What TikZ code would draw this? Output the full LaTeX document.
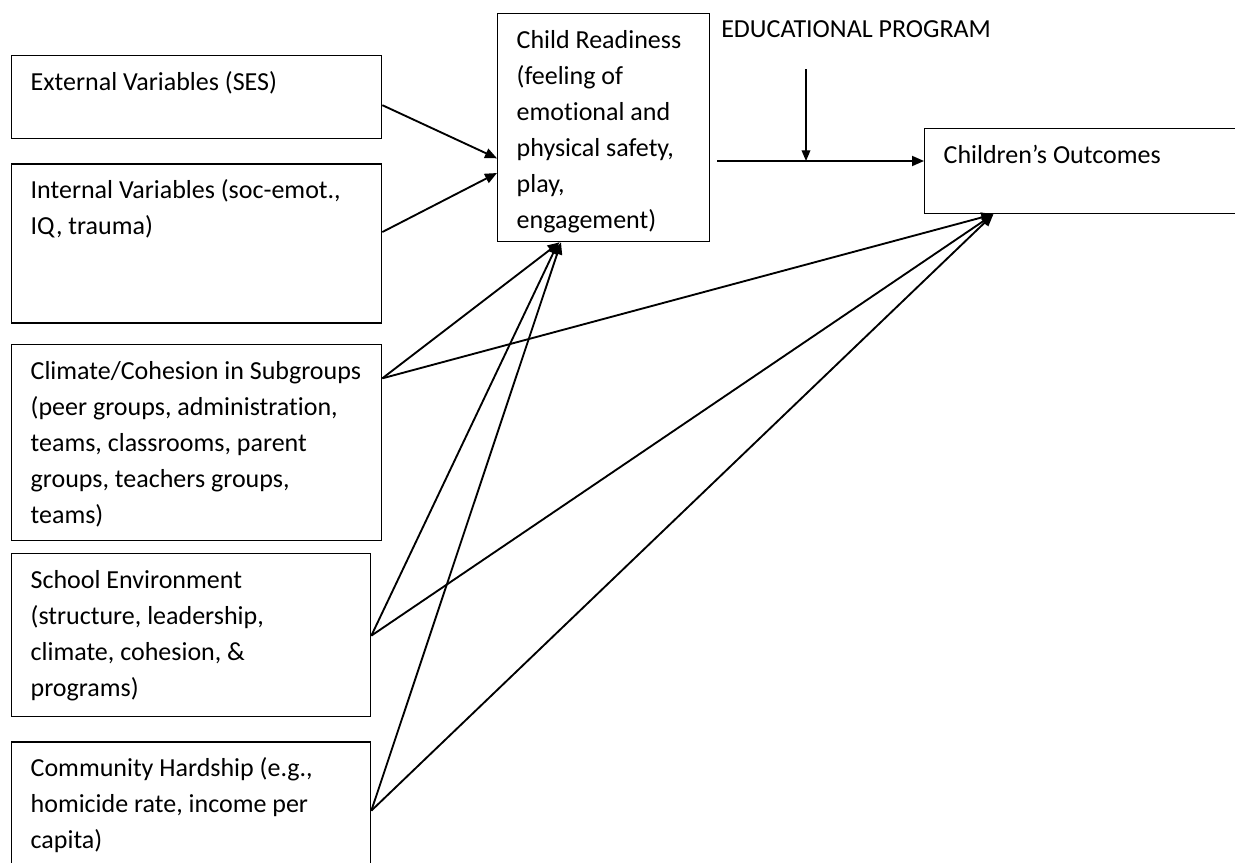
\documentclass[tikz,border=0pt]{standalone}
\usepackage{fontspec}
\setmainfont[Ligatures=NoCommon]{Carlito}
\usetikzlibrary{positioning,arrows.meta}
\newcommand{\boxtext}[3]{\parbox[t][#2][t]{#1}{\raggedright\leftskip=14.25pt\rule{0pt}{26pt}#3}}
\tikzset{
  varbox/.style={draw, line width=1pt, inner sep=0pt, anchor=north west},
  arrow/.style={-{Triangle[length=9pt, width=7.5pt]}, line width=1.4pt},
  thinarrow/.style={-{Triangle[length=8pt, width=6.5pt]}, line width=1pt},
}

\begin{document}
\begin{tikzpicture}[x=0.75pt, y=-0.75pt, font={\fontsize{19.5pt}{27pt}\selectfont}]
  \useasboundingbox (0,0) rectangle (1235,863);

  % predictors
  \node[varbox] (ext) at (11,55) {\boxtext{277.5pt}{62.25pt}{External Variables (SES)}};
  \node[varbox, below right=18pt and 0pt of ext.south west] (int)
       {\boxtext{277.5pt}{119.25pt}{Internal Variables (soc-emot.,\\IQ, trauma)}};
  \node[varbox, below right=15pt and 0pt of int.south west] (clim)
       {\boxtext{277.5pt}{147pt}{Climate/Cohesion in Subgroups\\(peer groups, administration,\\teams, classrooms, parent\\groups, teachers groups,\\teams)}};
  \node[varbox, below right=9pt and 0pt of clim.south west] (school)
       {\boxtext{269.25pt}{122.25pt}{School Environment\\(structure, leadership,\\climate, cohesion, \&\\programs)}};
  \node[varbox, below right=18pt and 0pt of school.south west] (comm)
       {\boxtext{269.25pt}{105pt}{Community Hardship (e.g.,\\homicide rate, income per\\capita)}};

  % mediator and outcome
  \node[varbox] (ready) at (497,13)
       {\boxtext{159pt}{171pt}{Child Readiness\\(feeling of\\emotional and\\physical safety,\\play,\\engagement)}};
  \node[varbox] (out) at (924,128) {\boxtext{247.5pt}{63.75pt}{Children’s Outcomes}};
  \node[anchor=north west, inner sep=0pt, below right=5.25pt and 8pt of ready.north east]
       (prog) {EDUCATIONAL PROGRAM};

  \coordinate[below=25pt of ready.east] (mid);
  \coordinate[below right=23.7pt and 63.75pt of prog.south west] (edtop);

  \draw[arrow] ([yshift=-6pt]ext.east) -- ([yshift=-23pt]ready.west);
  \draw[arrow] ([yshift=8.6pt]int.east) -- ([yshift=-34pt]ready.west);
  \draw[arrow] ([xshift=5pt]mid) -- (mid -| out.west);
  \draw[thinarrow] (edtop) -- (edtop |- mid);

  \draw[arrow] ([yshift=-26pt]clim.north east) -- ([xshift=-33pt]ready.south);
  \draw[arrow] ([yshift=-26pt]clim.north east) -- ([xshift=52pt]out.south west);
  \draw[arrow] ([yshift=-62pt]school.north east) -- ([xshift=-34pt]ready.south);
  \draw[arrow] ([yshift=-62pt]school.north east) -- ([xshift=52pt]out.south west);
  \draw[arrow] ([yshift=-52pt]comm.north east) -- ([xshift=-32pt]ready.south);
  \draw[arrow] ([yshift=-52pt]comm.north east) -- ([xshift=52pt]out.south west);
\end{tikzpicture}
\end{document}
